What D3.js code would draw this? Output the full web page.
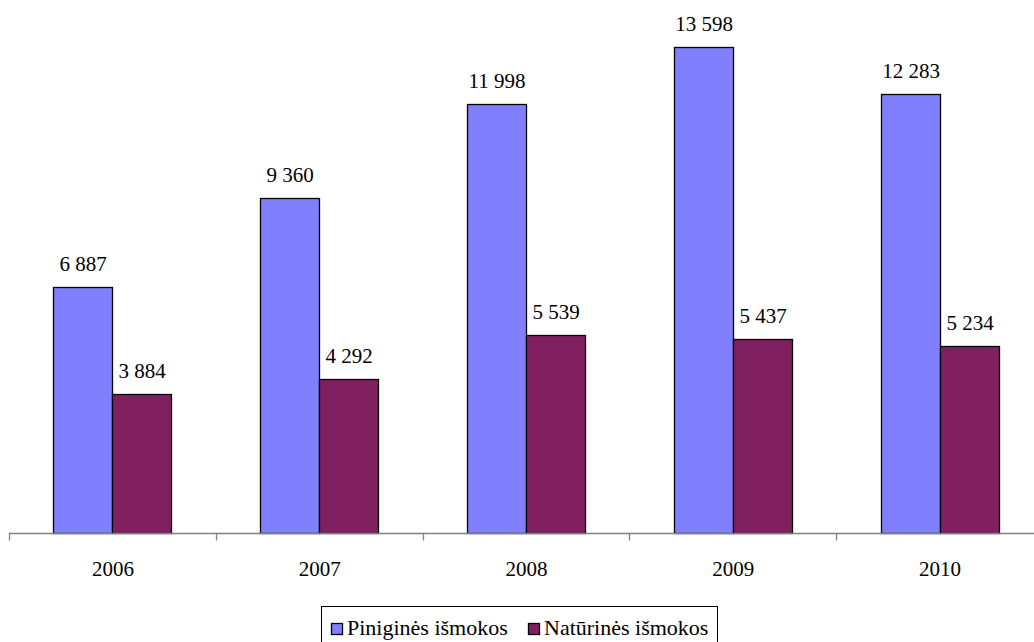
<!DOCTYPE html>
<html>
<head>
<meta charset="utf-8">
<script src="https://cdn.jsdelivr.net/npm/d3@7"></script>
<style>
  html, body { margin: 0; padding: 0; background: #fff; }
  svg { display: block; }
  svg text { font-family: 'Liberation Serif', 'Times New Roman', serif !important; }
</style>
</head>
<body>
<svg id="chart" width="1034" height="642"></svg>
<script>
// Years on the category axis
const years = ["2006", "2007", "2008", "2009", "2010"];
// Cash benefits
const piniginės = [6887, 9360, 11998, 13598, 12283];
// In-kind benefits
const natūrinės = [3884, 4292, 5539, 5437, 5234];
// Series names and colours
const seriesNames = ["Piniginės išmokos", "Natūrinės išmokos"];
const seriesColors = ["#8080ff", "#802060"];

const FONT = "'Liberation Serif', 'Times New Roman', serif";
const FS = 21;

const svg = d3.select("#chart");
const W = 1034, H = 642;
const baseY = 533;

const x = d3.scaleBand().domain(years).range([9, 9 + 206.8 * years.length]).paddingInner(0).paddingOuter(0);
const y = d3.scaleLinear().domain([0, 14000]).range([baseY, baseY - 14000 * 0.03577]);

const barW = 59;
const groupOffset = (x.bandwidth() - 2 * barW) / 2;
const fmt = v => d3.format(",")(v).replace(/,/g, " ");

const data = years.map((yr, i) => ({ year: yr, vals: [piniginės[i], natūrinės[i]] }));

const groups = svg.append("g").selectAll("g")
  .data(data).join("g")
  .attr("transform", d => `translate(${Math.round(x(d.year) + groupOffset)},0)`);

groups.selectAll("rect")
  .data(d => d.vals.map((v, k) => ({ v, k })))
  .join("rect")
  .attr("x", d => d.k * barW + 0.5)
  .attr("y", d => Math.round(y(d.v)) + 0.5)
  .attr("width", barW)
  .attr("height", d => baseY - Math.round(y(d.v)))
  .attr("fill", d => seriesColors[d.k])
  .attr("stroke", "#000")
  .attr("stroke-width", 1.3);

groups.selectAll("text.val")
  .data(d => d.vals.map((v, k) => ({ v, k })))
  .join("text")
  .attr("class", "val")
  .attr("x", d => d.k * barW + barW / 2 + 0.5)
  .attr("y", d => y(d.v) - 16)
  .attr("text-anchor", "middle")
  .attr("font-family", FONT)
  .attr("font-size", FS)
  .text(d => fmt(d.v));

// Category axis
const axis = svg.append("g").attr("transform", `translate(0,${baseY + 0.5})`);
axis.append("line").attr("x1", 9).attr("x2", W).attr("y1", 0).attr("y2", 0)
  .attr("stroke", "#808080").attr("stroke-width", 1.3);
const tickXs = years.map(d => x(d)).concat([x(years[years.length - 1]) + x.bandwidth()]);
axis.selectAll("line.tick").data(tickXs).join("line")
  .attr("class", "tick")
  .attr("x1", d => Math.round(d) + 0.5).attr("x2", d => Math.round(d) + 0.5)
  .attr("y1", 0).attr("y2", 7)
  .attr("stroke", "#808080").attr("stroke-width", 1.3);
axis.selectAll("text").data(years).join("text")
  .attr("x", d => x(d) + x.bandwidth() / 2 + 0.5)
  .attr("y", 575 - baseY)
  .attr("text-anchor", "middle")
  .attr("font-family", FONT)
  .attr("font-size", FS)
  .text(d => d);

// Legend
const legend = svg.append("g");
legend.append("rect")
  .attr("x", 321.5).attr("y", 606.5).attr("width", 396).attr("height", 40)
  .attr("fill", "none").attr("stroke", "#000").attr("stroke-width", 1);
const legX = [331, 528];
seriesNames.forEach((name, i) => {
  legend.append("rect")
    .attr("x", legX[i] + 0.5).attr("y", 623.5).attr("width", 11).attr("height", 11)
    .attr("fill", seriesColors[i]).attr("stroke", "#000").attr("stroke-width", 1.3);
  legend.append("text")
    .attr("x", legX[i] + 16).attr("y", 635)
    .attr("font-family", FONT)
    .attr("font-size", 22)
    .text(name);
});
</script>
</body>
</html>
